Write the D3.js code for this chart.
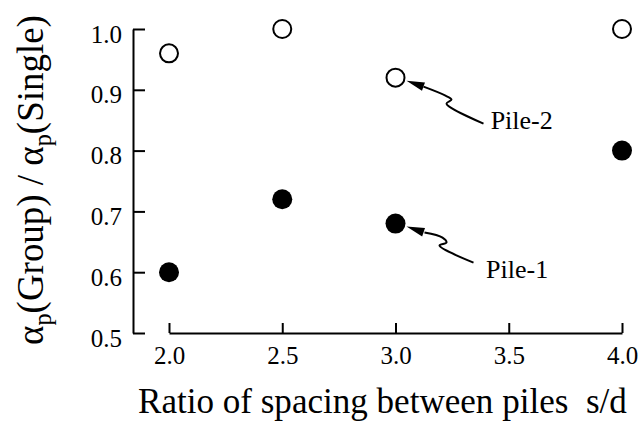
<!DOCTYPE html>
<html>
<head>
<meta charset="utf-8">
<script src="https://cdn.jsdelivr.net/npm/d3@7"></script>
<style>
  html, body { margin: 0; padding: 0; background: #fff; }
  svg { display: block; }
  text { font-family: "Liberation Serif", "Times New Roman", serif; fill: #000; }
</style>
</head>
<body>
<svg id="chart" width="639" height="421"></svg>
<script>
// ---- data ----
const spacing = [2.0, 2.5, 3.0, 4.0];
const pile1 = [0.60, 0.72, 0.68, 0.80];   // filled circles
const pile2 = [0.96, 1.00, 0.92, 1.00];   // open circles
const xTicks = [2.0, 2.5, 3.0, 3.5, 4.0];
const yTicks = [0.5, 0.6, 0.7, 0.8, 0.9, 1.0];
const xTitle = "Ratio of spacing between piles  s/d";
const annoLabels = ["Pile-2", "Pile-1"];
const annoPoint = [[3.0, 0.92], [3.0, 0.68]];
const annoText = [[3.42, 0.836], [3.40, 0.591]];

const svg = d3.select("#chart");

const x = d3.scaleLinear().domain([2.0, 4.0]).range([169, 622]);
const y = d3.scaleLinear().domain([0.5, 1.0]).range([333, 29]);

// y axis
const yAxis = d3.axisLeft(y).tickValues(yTicks).tickFormat(d3.format(".1f"))
  .tickSizeInner(-12).tickSizeOuter(0).tickPadding(11);
const gy = svg.append("g").attr("transform", "translate(133,0)").call(yAxis);
gy.select(".domain").attr("stroke", "#000").attr("stroke-width", 2);
gy.selectAll(".tick line").attr("stroke", "#000").attr("stroke-width", 2);
gy.selectAll(".tick text").attr("font-size", 25).attr("dy", "13px");

// x axis
const xAxis = d3.axisBottom(x).tickValues(xTicks).tickFormat(d3.format(".1f"))
  .tickSizeInner(-10).tickSizeOuter(0).tickPadding(13);
const gx = svg.append("g").attr("transform", "translate(0,333)").call(xAxis);
gx.select(".domain").attr("stroke", "#000").attr("stroke-width", 2);
gx.selectAll(".tick line").attr("stroke", "#000").attr("stroke-width", 2);
gx.selectAll(".tick text").attr("font-size", 25);
svg.selectAll(".tick text").attr("fill", "#000");

// x title
const xt = svg.append("text").attr("x", 138).attr("y", 413)
  .attr("font-size", 35).style("white-space", "pre").text(xTitle);
const xw = xt.node().getComputedTextLength();
xt.attr("font-size", 35 * 489 / xw);

// y title (rotated)
const yt = svg.append("text")
  .attr("transform", "translate(43,180) rotate(-90)")
  .attr("text-anchor", "middle").attr("font-size", 35).style("white-space", "pre");
yt.append("tspan").text("α");
yt.append("tspan").attr("class", "sub").attr("font-size", 23).attr("dy", 8).text("p");
yt.append("tspan").attr("dy", -8).text("(Group) / α");
yt.append("tspan").attr("class", "sub").attr("font-size", 23).attr("dy", 8).text("p");
yt.append("tspan").attr("dy", -8).text("(Single)");
const yw = yt.node().getComputedTextLength();
yt.attr("font-size", 35 * 330 / yw);
yt.selectAll("tspan.sub").attr("font-size", 23 * 330 / yw);

// points
svg.append("g").selectAll("circle").data(spacing.map((s, i) => [s, pile2[i]]))
  .join("circle")
  .attr("cx", d => x(d[0])).attr("cy", d => y(d[1])).attr("r", 9)
  .attr("fill", "#fff").attr("stroke", "#000").attr("stroke-width", 2);
svg.append("g").selectAll("circle").data(spacing.map((s, i) => [s, pile1[i]]))
  .join("circle")
  .attr("cx", d => x(d[0])).attr("cy", d => y(d[1])).attr("r", 10)
  .attr("fill", "#000");

// annotations with squiggly arrows (offsets from point)
const arrowShapes = [
  [[89, 46], [52, 26], [57, 22], [51, 18], [29, 9]],
  [[79, 39], [45, 22], [52, 19], [48, 14], [30, 9]]
];
const line = d3.line().curve(d3.curveCatmullRom.alpha(0.5));
annoLabels.forEach((lab, i) => {
  const px = x(annoPoint[i][0]) - 1, py = y(annoPoint[i][1]);
  const pts = arrowShapes[i].map(o => [px + o[0], py + o[1]]);
  svg.append("path").attr("d", line(pts)).attr("fill", "none")
    .attr("stroke", "#000").attr("stroke-width", 2);
  const tip = [px + 12, py + 3];
  const base = pts[pts.length - 1];
  const dx = tip[0] - base[0], dy = tip[1] - base[1];
  const len = Math.hypot(dx, dy);
  const ux = dx / len, uy = dy / len;
  const bx = tip[0] - ux * 18, by = tip[1] - uy * 18;
  const hw = 4.5;
  svg.append("path")
    .attr("d", `M${tip[0]},${tip[1]}L${bx - uy * hw},${by + ux * hw}L${bx + uy * hw},${by - ux * hw}Z`)
    .attr("fill", "#000");
  svg.append("text").attr("x", x(annoText[i][0])).attr("y", y(annoText[i][1]))
    .attr("font-size", 26).text(lab);
});
</script>
</body>
</html>
